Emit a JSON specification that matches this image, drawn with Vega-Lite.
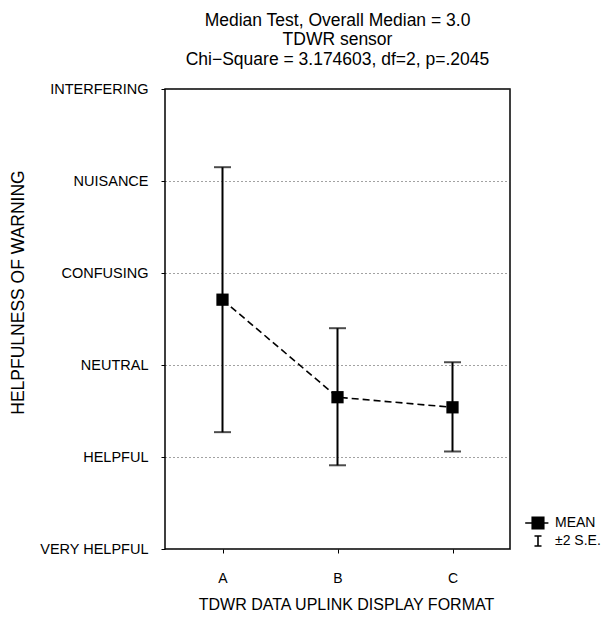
{
  "$schema": "https://vega.github.io/schema/vega-lite/v6.json",
  "autosize": "none",
  "padding": {"left": 165, "top": 89, "right": 104, "bottom": 73},
  "width": 345,
  "height": 460,
  "title": {
    "text": ["Median Test, Overall Median = 3.0", "TDWR sensor", "Chi\u2212Square = 3.174603, df=2, p=.2045"],
    "font": "Liberation Sans",
    "fontSize": 17.5,
    "fontWeight": "normal",
    "lineHeight": 19.5,
    "color": "black",
    "anchor": "middle",
    "baseline": "bottom",
    "offset": -5
  },
  "data": {
    "values": [
      {"format": "A", "mean": 3.71, "lo": 2.27, "hi": 5.15},
      {"format": "B", "mean": 2.65, "lo": 1.91, "hi": 3.40},
      {"format": "C", "mean": 2.54, "lo": 2.06, "hi": 3.03}
    ]
  },
  "encoding": {
    "x": {
      "field": "format",
      "type": "nominal",
      "scale": {"type": "point", "padding": 0.5},
      "axis": {
        "title": "TDWR DATA UPLINK DISPLAY FORMAT",
        "labelAngle": 0,
        "tickSize": 4,
        "labelPadding": 18,
        "titleY": 60,
        "titleX": 181,
        "titleBaseline": "alphabetic",
        "titleAlign": "center",
        "domain": false
      }
    }
  },
  "layer": [
    {
      "mark": {"type": "rule", "color": "black", "strokeWidth": 2},
      "encoding": {
        "y": {
          "field": "lo",
          "type": "quantitative",
          "scale": {"domain": [1, 6], "nice": false, "zero": false},
          "axis": {
            "title": "HELPFULNESS OF WARNING",
            "values": [1, 2, 3, 4, 5, 6],
            "labelExpr": "['', 'VERY HELPFUL', 'HELPFUL', 'NEUTRAL', 'CONFUSING', 'NUISANCE', 'INTERFERING'][datum.value]",
            "grid": true,
            "gridDash": [1, 3],
            "gridColor": "#444",
            "gridWidth": 1,
            "tickSize": 4,
            "labelPadding": 13,
            "labelFontSize": 14.5,
            "domain": false,
            "titleX": -142,
            "titleY": 203,
            "titleFontSize": 17.5,
            "titleAngle": -90,
            "titleAlign": "center",
            "titleBaseline": "alphabetic"
          }
        },
        "y2": {"field": "hi"}
      }
    },
    {
      "mark": {"type": "tick", "color": "black", "size": 17, "thickness": 2, "orient": "horizontal"},
      "encoding": {"y": {"field": "hi", "type": "quantitative"}}
    },
    {
      "mark": {"type": "tick", "color": "black", "size": 17, "thickness": 2, "orient": "horizontal"},
      "encoding": {"y": {"field": "lo", "type": "quantitative"}}
    },
    {
      "mark": {"type": "line", "color": "black", "strokeWidth": 1.6, "strokeDash": [7, 4]},
      "encoding": {"y": {"field": "mean", "type": "quantitative"}}
    },
    {
      "mark": {"type": "point", "shape": "square", "filled": true, "color": "black", "opacity": 1, "size": 150},
      "encoding": {"y": {"field": "mean", "type": "quantitative"}}
    },
    {
      "mark": {"type": "point", "filled": false, "color": "black", "opacity": 0},
      "encoding": {
        "y": {"field": "mean", "type": "quantitative"},
        "shape": {
          "datum": "MEAN",
          "scale": {
            "domain": ["MEAN", "\u00b12 S.E."],
            "range": [
              "M-1.6,0H-0.72M0.72,0H1.3M-0.72,-0.72H0.72V0.72H-0.72ZM-0.72,-0.54H0.72M-0.72,-0.36H0.72M-0.72,-0.18H0.72M-0.72,0H0.72M-0.72,0.18H0.72M-0.72,0.36H0.72M-0.72,0.54H0.72",
              "M0,-0.62V0.62M-0.44,-0.62H0.44M-0.44,0.62H0.44"
            ]
          },
          "legend": {
            "title": null,
            "orient": "none",
            "legendX": 364,
            "legendY": 425,
            "symbolSize": 256,
            "symbolOpacity": 1,
            "symbolStrokeColor": "black",
            "symbolStrokeWidth": 1.6,
            "labelFont": "Liberation Sans",
            "labelFontSize": 14,
            "labelColor": "black",
            "labelOffset": 8,
            "rowPadding": 0
          }
        }
      }
    },
    {
      "mark": {"type": "point", "filled": false, "color": "black", "opacity": 0},
      "encoding": {
        "y": {"field": "mean", "type": "quantitative"},
        "shape": {"datum": "\u00b12 S.E."}
      }
    }
  ],
  "config": {
    "view": {"stroke": "black", "strokeWidth": 1.5},
    "axis": {
      "labelFont": "Liberation Sans",
      "labelFontSize": 14,
      "labelColor": "black",
      "titleFont": "Liberation Sans",
      "titleFontSize": 16,
      "titleFontWeight": "normal",
      "titleColor": "black",
      "tickColor": "black",
      "tickWidth": 1
    }
  }
}
